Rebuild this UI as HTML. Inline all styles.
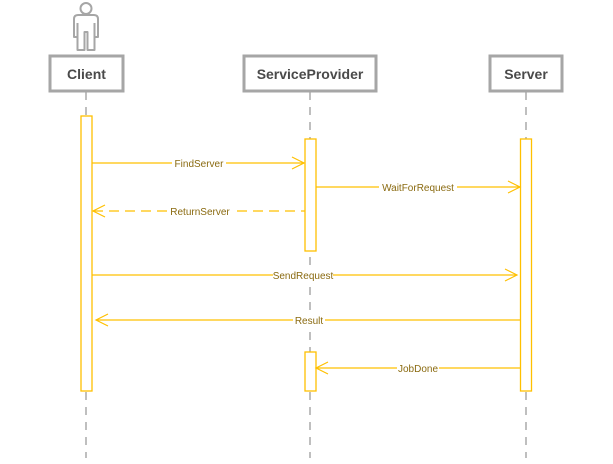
<!DOCTYPE html>
<html><head><meta charset="utf-8"><style>
html,body{margin:0;padding:0;background:#fff;}
svg{display:block;}
text{font-family:"Liberation Sans",sans-serif;}
</style></head><body>
<svg width="613" height="464" viewBox="0 0 613 464" xmlns="http://www.w3.org/2000/svg">
<g stroke="#aaaaaa" stroke-width="1.5" stroke-dasharray="8,7" fill="none">
<line x1="86" y1="92" x2="86" y2="458"/>
<line x1="310" y1="92" x2="310" y2="458"/>
<line x1="526" y1="92" x2="526" y2="458"/>
</g>
<!-- person -->
<g stroke="#a6a6a6" stroke-width="2" fill="#fff" stroke-linejoin="round">
<circle cx="86" cy="8.5" r="5.5"/>
<path d="M74,37 V19 Q74,15 78,15 H94 Q98,15 98,19 V37 H94.5 V50 H87.5 V32 H84.5 V50 H77.5 V37 Z"/>
<path d="M77.5,23 V37 M94.5,23 V37" fill="none"/>
</g>
<!-- boxes -->
<g stroke="#a6a6a6" stroke-width="3" fill="#fff">
<rect x="50" y="56" width="73" height="35"/>
<rect x="244" y="56" width="132" height="35"/>
<rect x="490" y="56" width="72" height="35"/>
</g>
<g font-size="14" font-weight="bold" fill="#4a4a4a" text-anchor="middle">
<text x="86.5" y="79">Client</text>
<text x="310" y="79">ServiceProvider</text>
<text x="526" y="79">Server</text>
</g>
<!-- activations -->
<g stroke="#ffc000" stroke-width="1.3" fill="#fff">
<rect x="81" y="116" width="11" height="275"/>
<rect x="305" y="139" width="11" height="112"/>
<rect x="305" y="352" width="11" height="39"/>
<rect x="520.5" y="139" width="11" height="252"/>
</g>
<!-- messages -->
<g stroke="#ffc000" stroke-width="1.2" fill="none">
<line x1="92" y1="163" x2="304" y2="163"/>
<path d="M292,157 L304,163 L292,169"/>
<line x1="316" y1="187" x2="520" y2="187"/>
<path d="M508,181 L520,187 L508,193"/>
<line x1="93" y1="211" x2="305" y2="211" stroke-dasharray="10,6"/>
<path d="M105,205 L93,211 L105,217"/>
<line x1="92" y1="275" x2="517" y2="275"/>
<path d="M505,269 L517,275 L505,281"/>
<line x1="96" y1="320" x2="520" y2="320"/>
<path d="M108,314 L96,320 L108,326"/>
<line x1="316" y1="368" x2="520" y2="368"/>
<path d="M328,362 L316,368 L328,374"/>
</g>
<g font-size="10" fill="#8a6a10" text-anchor="middle">
<rect x="172" y="157" width="54" height="12" fill="#fff"/>
<text x="199" y="167">FindServer</text>
<rect x="379" y="181" width="78" height="12" fill="#fff"/>
<text x="418" y="191">WaitForRequest</text>
<rect x="169" y="205" width="62" height="12" fill="#fff"/>
<text x="200" y="215">ReturnServer</text>
<rect x="273" y="269" width="60" height="12" fill="#fff"/>
<text x="303" y="279">SendRequest</text>
<rect x="293" y="314" width="32" height="12" fill="#fff"/>
<text x="309" y="324">Result</text>
<rect x="397" y="362" width="42" height="12" fill="#fff"/>
<text x="418" y="372">JobDone</text>
</g>
</svg>
</body></html>
